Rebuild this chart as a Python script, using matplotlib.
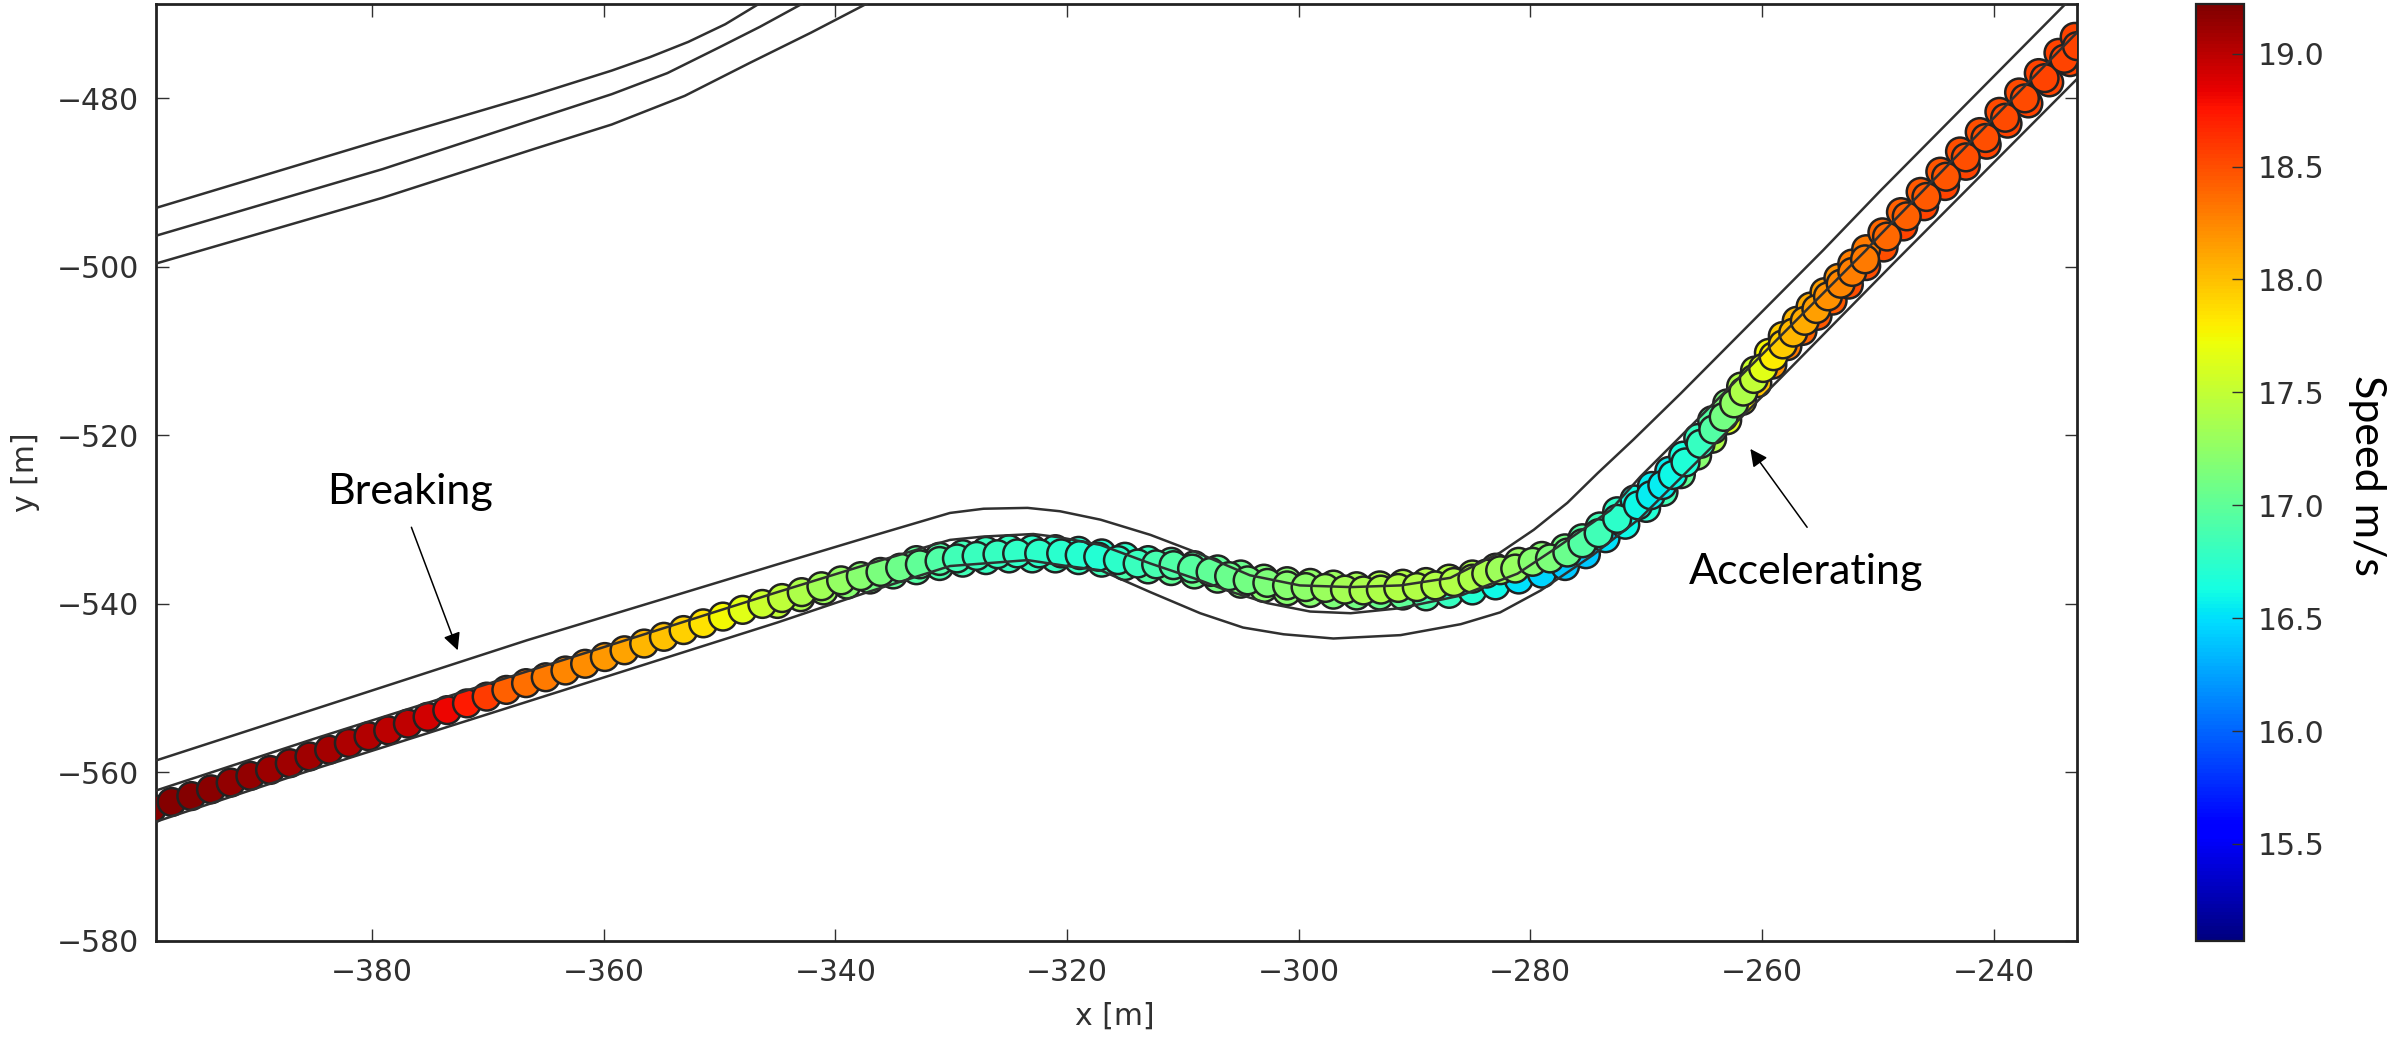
import matplotlib
matplotlib.use("Agg")
import matplotlib.pyplot as plt

FW, FH = 2395, 1039
plt.rcParams['font.family'] = ['DejaVu Sans']

track_x = [-399,-397.3,-395.6,-393.9,-392.2,-390.5,-388.8,-387.1,-385.4,-383.7,
           -382,-380.3,-378.6,-376.9,-375.2,-373.5,-371.8,-370.1,-368.4,-366.7,
           -365,-363.3,-361.6,-359.9,-358.2,-356.5,-354.8,-353.1,-351.4,-349.7,
           -348,-346.3,-344.6,-342.9,-341.2,-339.5,-337.8,-336.1,-334.4,-332.7,
           -331,-329.5,-327.8,-326,-324.3,-322.4,-320.5,-318.9,-317.3,-315.6,
           -313.9,-312.3,-310.8,-309.2,-307.6,-306,-304.4,-302.7,-301,-299.4,
           -297.7,-296,-294.4,-292.9,-291.4,-289.8,-288.2,-286.6,-285,-283.8,
           -282.6,-281.3,-279.8,-278.3,-276.8,-275.5,-274.1,-272.5,-270.7,-269.6,
           -268.6,-267.7,-266.6,-265.3,-264.2,-263.3,-262.4,-261.6,-260.7,-259.9,
           -259,-258.2,-257.3,-256.3,-255.3,-254.3,-253.2,-252.2,-251.1,-249.2,
           -247.5,-245.8,-244.1,-242.4,-240.7,-239,-237.3,-235.6,-233.9,-232.8]
track_y = [-564.3,-563.5,-562.8,-562,-561.2,-560.4,-559.7,-558.9,-558.1,-557.3,
           -556.5,-555.7,-555,-554.2,-553.4,-552.6,-551.8,-551,-550.2,-549.4,
           -548.7,-547.9,-547.1,-546.3,-545.5,-544.7,-543.9,-543.1,-542.3,-541.5,
           -540.7,-540,-539.3,-538.6,-537.9,-537.2,-536.7,-536.2,-535.7,-535.3,
           -534.9,-534.6,-534.3,-534.1,-534,-534,-534,-534.2,-534.4,-534.8,
           -535.2,-535.3,-535.4,-535.8,-536.2,-536.7,-537.2,-537.5,-537.8,-538,
           -538.1,-538.3,-538.4,-538.3,-538.1,-538,-537.8,-537.4,-537,-536.4,
           -536,-535.8,-535,-534.6,-533.9,-532.8,-531.6,-529.9,-528.3,-527.1,
           -525.9,-524.7,-523.2,-521,-519.3,-517.8,-516.2,-514.8,-513.3,-512,
           -510.6,-509.2,-507.8,-506.4,-505,-503.5,-502,-500.6,-499.1,-496.4,
           -494,-491.7,-489.3,-487,-484.7,-482.3,-480,-477.6,-475.3,-473.8]
track_speed = [19.2,19.2,19.2,19.18,19.15,19.15,19.12,19.1,19.1,19.08,
               19.05,19.03,19.0,18.98,18.92,18.82,18.72,18.58,18.42,18.35,
               18.3,18.25,18.22,18.18,18.12,18.05,18.0,17.93,17.85,17.75,
               17.65,17.55,17.47,17.4,17.33,17.27,17.2,17.13,17.07,17.0,
               16.92,16.85,16.82,16.8,16.77,16.75,16.73,16.72,16.7,16.75,
               16.82,16.88,16.92,16.96,17.0,17.05,17.1,17.15,17.2,17.23,
               17.3,17.35,17.38,17.4,17.42,17.42,17.42,17.42,17.4,17.38,
               17.32,17.28,17.2,17.15,17.05,16.95,16.85,16.75,16.6,16.55,
               16.55,16.6,16.68,16.8,16.95,17.1,17.25,17.4,17.5,17.65,
               17.8,17.95,18.05,18.1,18.15,18.2,18.25,18.28,18.3,18.38,
               18.42,18.45,18.47,18.5,18.5,18.52,18.52,18.55,18.55,18.55]

pass2_x = [-345,-343,-341,-339,-337,-335,-333,-331,-329,-327,
           -325,-323,-321,-319,-317,-315,-313,-311,-309,-307,
           -305,-303,-301,-299,-297,-295,-293,-291,-289,-287,
           -285,-283,-281,-279,-277,-275.2,-273.5,-271.8,-270,-268.5,
           -267,-265.6,-264.3,-263,-261.7,-260.4,-259.1,-257.8,-256.5,-255.2,
           -253.9,-252.5,-251,-249.5,-247.8,-246,-244.2,-242.4,-240.6,-238.8,
           -237,-235.2,-233.4]
pass2_y = [-540,-539.2,-538.4,-537.7,-537.1,-536.5,-536,-535.5,-535.1,-534.8,
           -534.6,-534.6,-534.6,-534.8,-535.1,-535.5,-535.9,-536.1,-536.5,-537,
           -537.6,-538.1,-538.5,-538.7,-538.9,-539,-539,-539,-539.1,-538.8,
           -538.4,-537.8,-537.1,-536.4,-535.5,-534.1,-532.2,-530.6,-528.6,-526.7,
           -524.6,-522.4,-520.4,-518.2,-515.9,-513.8,-511.6,-509.4,-507.6,-505.8,
           -504,-502.1,-499.9,-497.7,-495.2,-492.8,-490.4,-488,-485.5,-483,
           -480.6,-478.1,-475.7]
pass2_speed = [17.5,17.4,17.3,17.2,17.1,17.0,16.95,16.9,16.85,16.8,
               16.8,16.8,16.8,16.8,16.85,16.9,16.95,17.0,17.05,17.1,
               17.15,17.2,17.2,17.2,17.15,17.1,17.05,17.0,16.9,16.8,
               16.7,16.6,16.5,16.45,16.4,16.4,16.5,16.6,16.7,16.85,
               17.0,17.2,17.4,17.6,17.8,18.0,18.2,18.3,18.4,18.45,
               18.45,18.5,18.5,18.5,18.55,18.55,18.55,18.55,18.55,18.55,
               18.55,18.55,18.55]

pass3_x = [-333,-331,-329,-327,-325,-323,-321,-319,-317,-315,
           -313,-311,-309,-307,-305,-303,-301,-299,-297,-295,
           -293,-291,-289,-287,-285,-283,-281,-279,-277,-275.5,
           -274,-272.5,-271,-269.5,-268,-266.8,-265.5,-264.3,-263,-261.8,
           -260.6,-259.4,-258.2,-257,-255.8,-254.6,-253.4,-252.2,-251,-249.6,
           -248,-246.3,-244.6,-242.9,-241.2,-239.5,-237.8,-236.1,-234.4,-233]
pass3_y = [-534.8,-534.4,-534.1,-533.7,-533.5,-533.5,-533.5,-533.7,-534,-534.4,
           -534.8,-535,-535.4,-535.9,-536.5,-537,-537.3,-537.5,-537.7,-537.9,
           -537.8,-537.6,-537.4,-537,-536.5,-535.7,-535,-534.3,-533.4,-532.2,
           -530.8,-529,-527.6,-526,-524.2,-522.4,-520.3,-518.2,-516.2,-514.2,
           -512.3,-510.2,-508.2,-506.4,-504.7,-503,-501.3,-499.6,-497.9,-495.9,
           -493.5,-491.1,-488.7,-486.3,-484,-481.6,-479.3,-477,-474.6,-472.7]
pass3_speed = [17.0,16.92,16.85,16.82,16.8,16.75,16.73,16.72,16.7,16.75,
               16.82,16.9,16.96,17.0,17.05,17.15,17.2,17.25,17.3,17.35,
               17.4,17.42,17.42,17.42,17.4,17.32,17.28,17.2,17.1,16.95,
               16.85,16.75,16.62,16.55,16.55,16.65,16.8,16.95,17.15,17.4,
               17.55,17.75,17.95,18.05,18.1,18.15,18.2,18.28,18.3,18.38,
               18.42,18.45,18.47,18.5,18.5,18.52,18.52,18.55,18.55,18.55]

road_upper_x = [-398.7,-385,-366.6,-345,-337,-330.1,-327.2,-323.4,-320.6,-317.1,-312.8,-308.8,-304.2,-299.9,-295.5,-291.2,-286.9,-282.6,-279.7,-276.8,-274.2,-271.1,-267,-254.7,-249.8,-233.8]
road_upper_y = [-558.6,-552.5,-544.3,-535.3,-532,-529.2,-528.7,-528.6,-529,-530,-531.8,-533.9,-536.6,-537.8,-538,-537.8,-536.9,-533.9,-531.2,-528,-524.5,-520.5,-515,-498,-491,-468.8]
road_mid_x = [-399,-385,-366.6,-345,-337,-330.1,-327.2,-322.9,-320.6,-317.1,-312.8,-308.5,-306.2,-302.7,-299,-295.5,-291.2,-286,-281.1,-277.7,-273.1,-270.5,-267.3,-251,-249.8,-233.1,-232.8]
road_mid_y = [-562.3,-556,-548,-538.6,-535.2,-532.4,-532,-531.7,-532.1,-533,-535.2,-537.2,-538.4,-539.9,-540.9,-541.1,-540.5,-539,-536.4,-533.3,-528.9,-524.9,-520.5,-498,-496.2,-472.6,-472.2]
road_lower_x = [-399,-385,-366.6,-345,-337,-330.1,-323.4,-320,-317.1,-312.8,-308.5,-304.8,-301.3,-297,-291.2,-286,-282.6,-279.1,-274.6,-270.5,-265.3,-258.4,-248.3,-232.8]
road_lower_y = [-566,-559.6,-551.6,-542.2,-538.5,-535.5,-534.8,-535.5,-536,-538.6,-541.1,-542.8,-543.6,-544.1,-543.7,-542.4,-541,-538.4,-534.2,-529.8,-522.7,-513.2,-499.1,-477.7]
other_upper_x = [-398.65,-379.1,-366,-359.3,-356,-352.7,-349.5,-346.5]
other_upper_y = [-493,-484.9,-479.6,-476.7,-475.1,-473.3,-471.2,-468.7]
other_mid_x = [-398.65,-379.1,-366,-359.3,-354.5,-350.1,-346.5,-342.9]
other_mid_y = [-496.3,-488.4,-482.5,-479.5,-477,-474,-471.5,-468.8]
other_lower_x = [-398.65,-379.1,-366,-359.3,-353,-347.4,-342.1,-337.2]
other_lower_y = [-499.6,-491.8,-486,-483.1,-479.7,-475.8,-472.2,-468.7]

x_ticks = [-380,-360,-340,-320,-300,-280,-260,-240]
y_ticks = [-480,-500,-520,-540,-560,-580]
cbar_ticks = [15.5,16.0,16.5,17.0,17.5,18.0,18.5,19.0]

fig = plt.figure(figsize=(FW/100, FH/100), dpi=100)
ax = fig.add_axes([156/FW, 1-941/FH, (2077-156)/FW, (941-4)/FH])
line_c = '#303030'
ink = '#303030'
for px_, py_, ps_ in [(pass2_x, pass2_y, pass2_speed), (pass3_x, pass3_y, pass3_speed)]:
    ax.scatter(px_, py_, c=ps_, cmap='jet', vmin=15.07, vmax=19.22,
               s=400, edgecolors='#222222', linewidths=1.8, zorder=2)
sc = ax.scatter(track_x, track_y, c=track_speed, cmap='jet', vmin=15.07, vmax=19.22,
                s=400, edgecolors='#222222', linewidths=1.8, zorder=3)
for lx, ly in [(road_upper_x, road_upper_y), (road_mid_x, road_mid_y), (road_lower_x, road_lower_y),
               (other_upper_x, other_upper_y), (other_mid_x, other_mid_y), (other_lower_x, other_lower_y)]:
    ax.plot(lx, ly, color=line_c, lw=1.8, zorder=4)
ax.set_xlim(-398.65, -232.8)
ax.set_ylim(-580, -468.8)
ax.set_xticks(x_ticks)
ax.set_yticks(y_ticks)
ax.tick_params(direction='in', top=True, right=True, length=9, width=1, labelsize=21.5, pad=12, colors=ink)
ax.set_xlabel('x [m]', fontsize=21.5, color=ink)
ax.set_ylabel('y [m]', fontsize=21.5, color=ink)
ax.xaxis.set_label_coords(0.499, -0.065)
ax.yaxis.set_label_coords(-0.0604, 0.5)
for s in ax.spines.values():
    s.set_linewidth(2)
    s.set_color('#222222')

note = dict(arrowstyle='-|>', color='black', lw=1.1, mutation_scale=26, shrinkA=0, shrinkB=0)
ax.annotate('', xy=(-372.6, -545.5), xytext=(-376.6, -530.9), arrowprops=note, zorder=5)
ax.text(-376.7, -526.75, 'Breaking', family='Lato', fontsize=31, ha='center', va='center', color='black')
ax.annotate('', xy=(-261, -521.6), xytext=(-256.1, -530.9), arrowprops=note, zorder=5)
ax.text(-256.2, -536.15, 'Accelerating', family='Lato', fontsize=31, ha='center', va='center', color='black')

cax = fig.add_axes([2196/FW, 1-941/FH, 48/FW, (941-4)/FH])
cb = fig.colorbar(sc, cax=cax)
cb.set_ticks(cbar_ticks)
cb.set_ticklabels([f'{v:.1f}' for v in cbar_ticks])
cb.ax.tick_params(direction='in', length=9, width=1, labelsize=21.5, pad=10, colors=ink)
cb.outline.set_linewidth(1.6)
cb.outline.set_edgecolor('#222222')
fig.text(2367/FW, 1-475/FH, 'Speed m/s', family='Lato', fontsize=31, rotation=270, ha='center', va='center', color='black')
fig.savefig('out.png', dpi=100)
